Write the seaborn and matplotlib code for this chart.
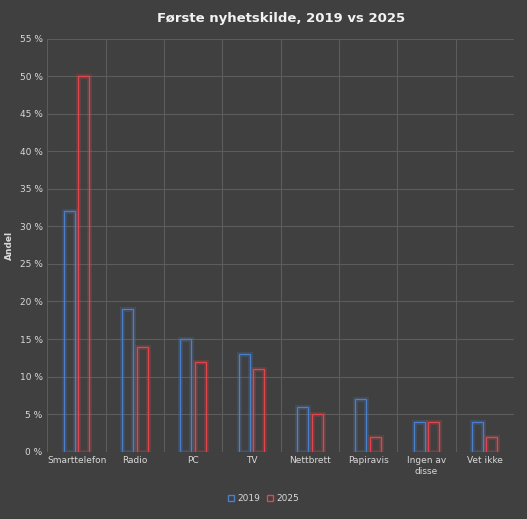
import matplotlib
matplotlib.use('Agg')
import matplotlib.pyplot as plt
import matplotlib.patheffects as pe
from matplotlib.ticker import MultipleLocator, FuncFormatter
from matplotlib.patches import Patch
import seaborn as sns
import pandas as pd

# Data
kategorier = ['Smarttelefon', 'Radio', 'PC', 'TV', 'Nettbrett', 'Papiravis', 'Ingen av\ndisse', 'Vet ikke']
verdier_2019 = [32, 19, 15, 13, 6, 7, 4, 4]
verdier_2025 = [50, 14, 12, 11, 5, 2, 4, 2]

df = pd.DataFrame({
    'Kategori': kategorier * 2,
    'Andel': verdier_2019 + verdier_2025,
    'År': ['2019'] * len(kategorier) + ['2025'] * len(kategorier),
})

bg = '#404040'
sns.set_theme(style='dark')
plt.rcParams['font.family'] = ['DejaVu Sans']

fig, ax = plt.subplots(figsize=(5.27, 5.19), dpi=100)
fig.patch.set_facecolor(bg)
ax.set_facecolor(bg)

farger = {'2019': '#4a7fc9', '2025': '#e0474c'}
sns.barplot(data=df, x='Kategori', y='Andel', hue='År', palette=farger,
            fill=False, width=0.5, gap=0.25, linewidth=0.9, ax=ax, legend=False)

# svak glød rundt stolpene
for p in ax.patches:
    c = p.get_edgecolor()
    p.set_path_effects([pe.Stroke(linewidth=3.5, foreground=c, alpha=0.22), pe.Normal()])

ax.set_ylim(0, 55)
ax.yaxis.set_major_locator(MultipleLocator(5))
ax.yaxis.set_major_formatter(FuncFormatter(lambda v, _: f'{int(v)} %'))
ax.set_xlim(-0.5, len(kategorier) - 0.5)

ax.grid(axis='y', color='#5c5c5c', linewidth=0.8)
for i in range(len(kategorier) + 1):
    ax.axvline(i - 0.5, color='#5c5c5c', linewidth=0.8, zorder=0)
ax.set_axisbelow(True)
for s in ax.spines.values():
    s.set_visible(False)

ax.tick_params(colors='#d9d9d9', labelsize=6.5, length=0)
ax.set_xlabel('')
ax.set_ylabel('Andel', color='#d9d9d9', fontsize=6.5, fontweight='bold')
ax.set_title('Første nyhetskilde, 2019 vs 2025', color='#f2f2f2', fontsize=9.5,
             fontweight='bold', pad=12)

handles = [Patch(facecolor='none', edgecolor=farger[k], label=k) for k in farger]
leg = fig.legend(handles=handles, loc='lower center', ncol=2, frameon=False,
                 fontsize=6.5, handlelength=0.7, handleheight=0.7,
                 bbox_to_anchor=(0.5, 0.015), columnspacing=0.8, handletextpad=0.3)
for t in leg.get_texts():
    t.set_color('#d9d9d9')

fig.subplots_adjust(left=0.09, right=0.975, top=0.925, bottom=0.13)
fig.savefig('out.png', dpi=100, facecolor=bg)
